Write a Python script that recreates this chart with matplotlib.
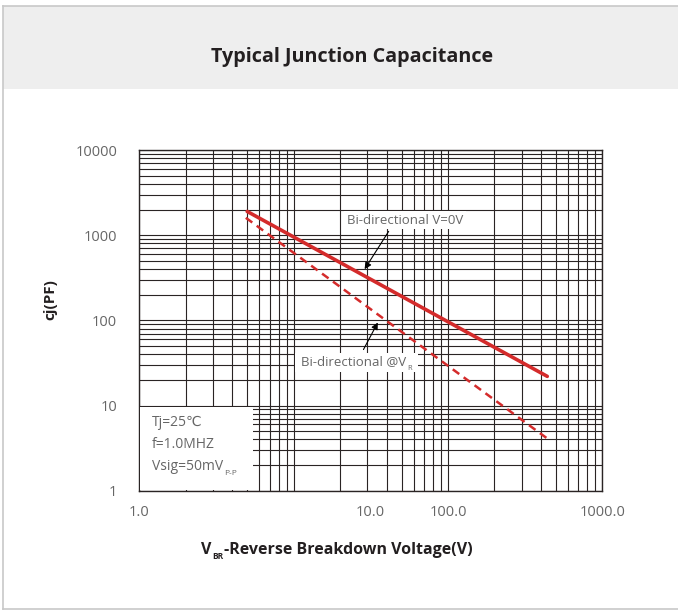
import matplotlib
matplotlib.use('Agg')
import matplotlib.pyplot as plt
from matplotlib.patches import Rectangle
from matplotlib.lines import Line2D
from matplotlib.text import Annotation
from matplotlib.ticker import FixedLocator, LogLocator, NullFormatter

plt.rcParams['font.family'] = ['Open Sans', 'DejaVu Sans']

# datos
v_zero_x = [5.0, 440.0]
v_zero_y = [1900.0, 22.0]
v_r_x = [4.9, 440.0]
v_r_y = [1600.0, 4.1]

x_tick_pos = [1.0, 31.3, 100.0, 1000.0]
x_tick_labels = ['1.0', '10.0', '100.0', '1000.0']
y_tick_pos = [1, 10, 100, 1000, 10000]
y_tick_labels = ['1', '10', '100', '1000', '10000']

rojo = '#d42b2b'
gris_txt = '#666666'
oscuro = '#231f20'


def subindice(base, txt, size=5.5, dy=-2.5, **kw):
    # texto pequeno justo a la derecha y debajo de otro texto
    a = Annotation(txt, xy=(1, 0), xycoords=base, xytext=(0.6, dy),
                   textcoords='offset points', ha='left', va='bottom', fontsize=size, **kw)
    if base.axes is not None:
        base.axes._add_text(a)
    else:
        base.figure.add_artist(a)
    return a


fig = plt.figure(figsize=(6.78, 6.10), dpi=100)

# banda gris del titulo y marco
fig.patches.append(Rectangle((3 / 678, 1 - 89 / 610), 1, 83 / 610, transform=fig.transFigure,
                             facecolor='#eeeeee', edgecolor='none', zorder=0))
fig.lines.append(Line2D([3 / 678, 1], [1 - 5.5 / 610] * 2, transform=fig.transFigure, color='#c8c8c8', lw=1.2))
fig.lines.append(Line2D([3 / 678, 3 / 678], [1.5 / 610, 1 - 5.5 / 610], transform=fig.transFigure, color='#c8c8c8', lw=1.2))
fig.lines.append(Line2D([3 / 678, 1], [1.5 / 610] * 2, transform=fig.transFigure, color='#c8c8c8', lw=1.2))

fig.text(352 / 678, 1 - 57 / 610, 'Typical Junction Capacitance', ha='center', va='center',
         fontsize=14.2, fontweight='bold', color=oscuro)

ax = fig.add_axes([139.3 / 678, 1 - 490.7 / 610, 463 / 678, 340.7 / 610])
ax.set_xscale('log')
ax.set_yscale('log')
ax.set_xlim(1, 1000)
ax.set_ylim(1, 10000)

ax.plot(v_zero_x, v_zero_y, color=rojo, lw=2.6, solid_capstyle='round', zorder=3)
ax.plot(v_r_x, v_r_y, color=rojo, lw=1.8, linestyle=(0, (3.2, 2.2)), zorder=3)

# rejilla logaritmica
for eje in (ax.xaxis, ax.yaxis):
    eje.set_minor_locator(LogLocator(base=10, subs=[1, 2, 3, 4, 5, 6, 7, 8, 9], numticks=20))
    eje.set_minor_formatter(NullFormatter())
    eje.remove_overlapping_locs = False
ax.xaxis.set_major_locator(FixedLocator(x_tick_pos))
ax.set_xticklabels(x_tick_labels)
ax.yaxis.set_major_locator(FixedLocator(y_tick_pos))
ax.set_yticklabels(y_tick_labels)
ax.grid(which='minor', color='#2a2424', lw=0.8)
ax.grid(which='major', visible=False)
ax.tick_params(which='major', length=0, labelsize=10.5, labelcolor=gris_txt)
ax.tick_params(axis='x', which='major', pad=10)
ax.tick_params(axis='y', which='major', pad=16)
ax.tick_params(which='minor', direction='in', length=3, color='#2a2424')
for s in ax.spines.values():
    s.set_color('#2a2424')
    s.set_linewidth(1.0)

# caja de condiciones
ax.add_patch(Rectangle((0.002, 0.002), 0.244, 0.243, transform=ax.transAxes,
                       facecolor='white', edgecolor='none', zorder=2.6))
cond = ['Tj=25℃', 'f=1.0MHZ', 'Vsig=50mV']
for i, t in enumerate(cond):
    tt = ax.text(0.027, 0.199 - i * 0.064, t, transform=ax.transAxes, fontsize=10,
                 color=gris_txt, va='center', ha='left', zorder=2.7)
subindice(tt, 'P-P', size=6, color=gris_txt, zorder=2.7)

# anotaciones
ax.text(52.7, 1500, 'Bi-directional V=0V', fontsize=9.5, color=gris_txt, ha='center', va='center',
        bbox=dict(facecolor='white', edgecolor='none', pad=2), zorder=4)
ax.annotate('', xy=(28.2, 374), xytext=(42.2, 1180),
            arrowprops=dict(arrowstyle='-|>', color='black', lw=0.8, mutation_scale=10), zorder=4)
ax.add_patch(Rectangle((0.336, 0.348), 0.266, 0.056, transform=ax.transAxes,
                       facecolor='white', edgecolor='none', zorder=3.5))
t2 = ax.text(24.5, 32.4, 'Bi-directional @V', fontsize=9.5, color=gris_txt, ha='center',
             va='center', zorder=4)
subindice(t2, 'R', color=gris_txt, zorder=4)
ax.annotate('', xy=(35.8, 100.8), xytext=(27.8, 42.5),
            arrowprops=dict(arrowstyle='-|>', color='black', lw=0.8, mutation_scale=10), zorder=4)

# etiquetas de ejes
xl = fig.text(201 / 678, 1 - 550 / 610, 'V', ha='left', va='center',
              fontsize=11.5, fontweight='bold', color=oscuro)
xs = subindice(xl, 'BR', size=6, fontweight='bold', color=oscuro)
fig.add_artist(Annotation('-Reverse Breakdown Voltage(V)', xy=(1, 1), xycoords=(xs, xl),
                          xytext=(0.5, 0), textcoords='offset points', ha='left',
                          va='top', fontsize=11.5, fontweight='bold', color=oscuro))
fig.text(50 / 678, 1 - 300 / 610, 'cj(PF)', rotation=90, ha='center', va='center',
         fontsize=11, fontweight='bold', color=oscuro)

fig.savefig('out.png', dpi=100, facecolor='white')
